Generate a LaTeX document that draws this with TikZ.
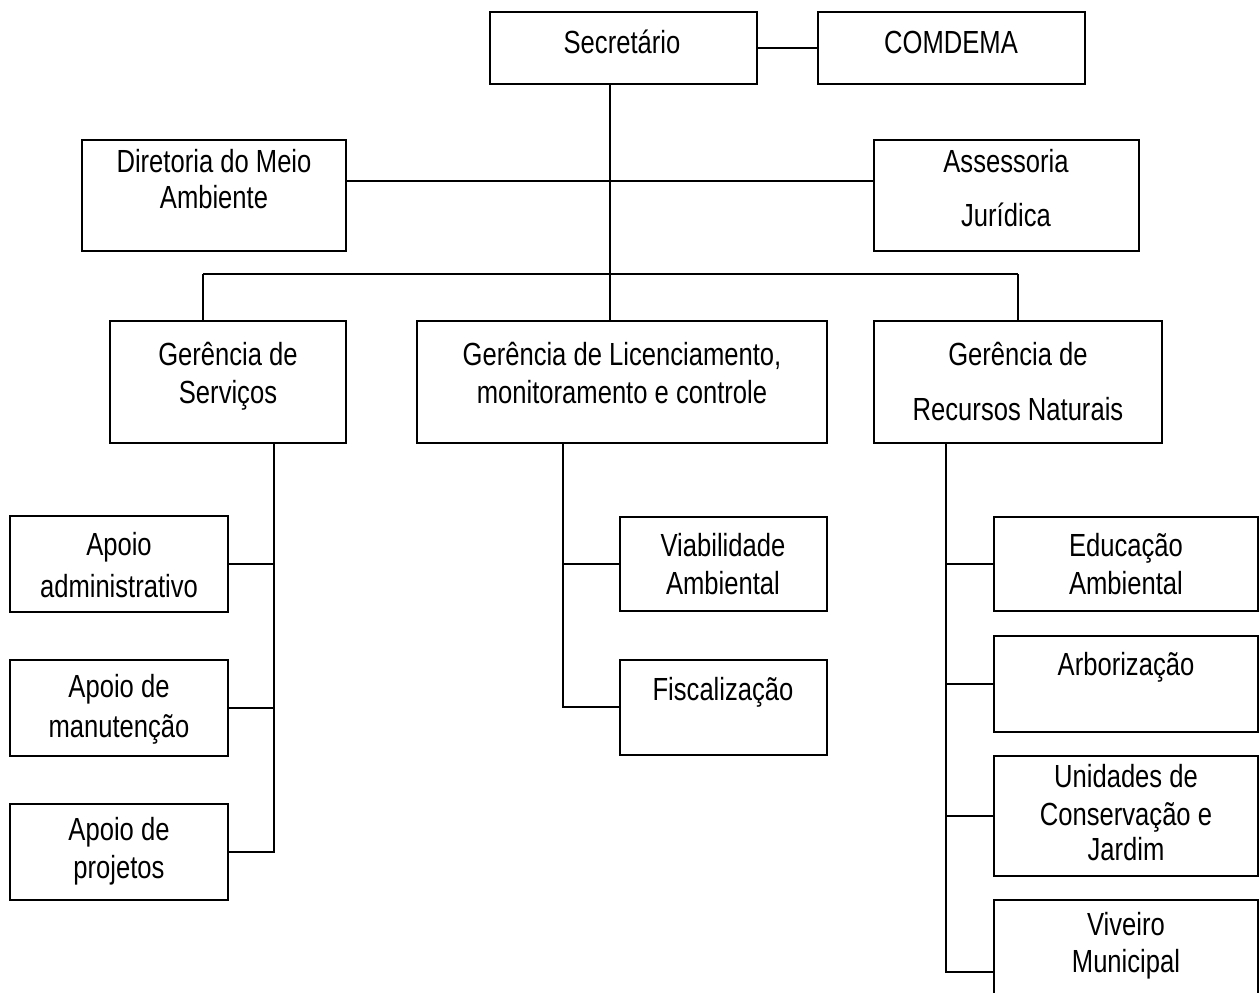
\documentclass[tikz,border=0pt]{standalone}
\usepackage{fontspec}
\setmainfont{Liberation Sans}[FakeStretch=0.8]
\newcommand\Bx[5]{\node[orgbox,minimum width={(#4-#2)*0.5pt},minimum height={(#5-#3)*0.5pt}] (#1) at ({(#2+#4)/2},{(#3+#5)/2}) {};}
\newcommand\Ln[4]{\node[orgtxt] (#1) at (#2,#3) {#4};}
\tikzset{
  orgbox/.style={draw,line width=1pt,inner sep=0pt,outer sep=0pt,fill=none},
  orgtxt/.style={anchor=base,inner sep=0pt,font=\fontsize{16}{19}\selectfont},
  conn/.style={line width=1pt}
}
\begin{document}
\begin{tikzpicture}[x=0.5pt,y=-0.5pt]
\useasboundingbox (0,0) rectangle (1259,992);
% boxes
\Bx{sec}{490}{12}{757}{84}
\Bx{com}{818}{12}{1085}{84}
\Bx{dir}{82}{140}{346}{251}
\Bx{ass}{874}{140}{1139}{251}
\Bx{gs}{110}{321}{346}{443}
\Bx{gl}{417}{321}{827}{443}
\Bx{gr}{874}{321}{1162}{443}
\Bx{a1}{10}{516}{228}{612}
\Bx{a2}{10}{660}{228}{756}
\Bx{a3}{10}{804}{228}{900}
\Bx{v1}{620}{517}{827}{611}
\Bx{v2}{620}{660}{827}{755}
\Bx{r1}{994}{517}{1258}{611}
\Bx{r2}{994}{636}{1258}{732}
\Bx{r3}{994}{756}{1258}{876}
\Bx{r4}{994}{900}{1258}{1044}
% texts
\Ln{tsec}{622}{53}{Secretário}
\Ln{tcom}{951}{53}{COMDEMA}
\Ln{tdir1}{214}{172}{Diretoria do Meio}
\Ln{tdir2}{214}{208}{Ambiente}
\Ln{tass1}{1006}{172}{Assessoria}
\Ln{tass2}{1006}{226}{Jurídica}
\Ln{tgs1}{228}{365}{Gerência de}
\Ln{tgs2}{228}{403}{Serviços}
\Ln{tgl1}{622}{365}{Gerência de Licenciamento,}
\Ln{tgl2}{622}{403}{monitoramento e controle}
\Ln{tgr1}{1018}{365}{Gerência de}
\Ln{tgr2}{1018}{420}{Recursos Naturais}
\Ln{ta11}{119}{555}{Apoio}
\Ln{ta12}{119}{597}{administrativo}
\Ln{ta21}{119}{697}{Apoio de}
\Ln{ta22}{119}{737}{manutenção}
\Ln{ta31}{119}{840}{Apoio de}
\Ln{ta32}{119}{878}{projetos}
\Ln{tv11}{723}{556}{Viabilidade}
\Ln{tv12}{723}{594}{Ambiental}
\Ln{tv21}{723}{700}{Fiscalização}
\Ln{tr11}{1126}{556}{Educação}
\Ln{tr12}{1126}{594}{Ambiental}
\Ln{tr21}{1126}{675}{Arborização}
\Ln{tr31}{1126}{787}{Unidades de}
\Ln{tr32}{1126}{825}{Conservação e}
\Ln{tr33}{1126}{860}{Jardim}
\Ln{tr41}{1126}{935}{Viveiro}
\Ln{tr42}{1126}{972}{Municipal}
% connector coordinates
\coordinate (t) at (610,274);
\coordinate (h) at (610,181);
\coordinate (gsT) at (203,274);
\coordinate (grT) at (1018,274);
\coordinate (sv) at (274,852);
\coordinate (lv) at (563,707);
\coordinate (rv) at (946,972);
% connectors
\draw[conn] (sec.east) -- (com.west);
\draw[conn] (sec.south -| t) -- (t);
\draw[conn] (dir.east |- h) -- (ass.west |- h);
\draw[conn] (gsT) -- (grT);
\draw[conn] (gsT) -- (gs.north -| gsT);
\draw[conn] (grT) -- (gr.north -| grT);
\draw[conn] (t) -- (gl.north -| t);
\draw[conn] (gs.south -| sv) -- (sv) -- (a3.east |- sv);
\draw[conn] (a1.east) -- (a1.east -| sv);
\draw[conn] (a2.east) -- (a2.east -| sv);
\draw[conn] (gl.south -| lv) -- (lv) -- (v2.west |- lv);
\draw[conn] (v1.west) -- (v1.west -| lv);
\draw[conn] (gr.south -| rv) -- (rv) -- (r4.west |- rv);
\draw[conn] (r1.west) -- (r1.west -| rv);
\draw[conn] (r2.west) -- (r2.west -| rv);
\draw[conn] (r3.west) -- (r3.west -| rv);
\end{tikzpicture}
\end{document}
